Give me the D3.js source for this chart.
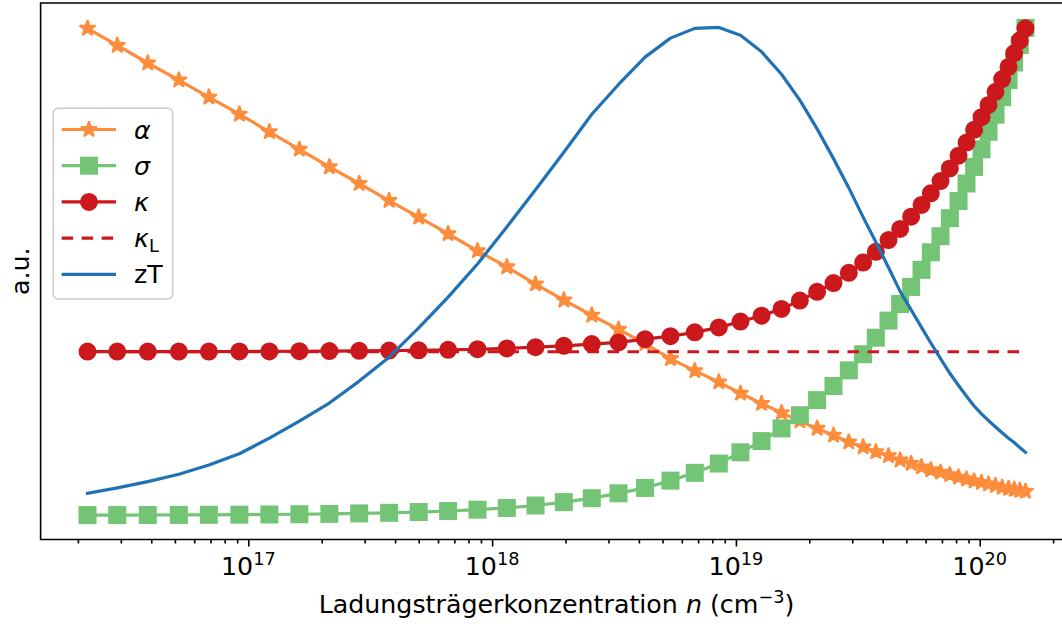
<!DOCTYPE html>
<html><head><meta charset="utf-8">
<script src="https://cdn.jsdelivr.net/npm/d3@7"></script>
<style>body{margin:0;background:#fff} svg{display:block} text{font-family:"DejaVu Sans",sans-serif;fill:#000}</style>
</head><body><svg id="c" width="1062" height="626"></svg>
<script>
// carrier concentration n (cm^-3)
const n = [2.19e16, 2.90e16, 3.87e16, 5.19e16, 6.89e16, 9.19e16, 1.22e17, 1.62e17, 2.15e17, 2.85e17,
  3.78e17, 5.00e17, 6.60e17, 8.71e17, 1.149e18, 1.507e18, 1.969e18, 2.564e18, 3.30e18, 4.24e18,
  5.39e18, 6.78e18, 8.51e18, 1.044e19, 1.274e19, 1.538e19, 1.829e19, 2.153e19, 2.513e19, 2.905e19,
  3.325e19, 3.749e19, 4.226e19, 4.716e19, 5.232e19, 5.771e19, 6.302e19, 6.906e19, 7.542e19, 8.189e19,
  8.830e19, 9.485e19, 1.017e20, 1.087e20, 1.161e20, 1.236e20, 1.313e20, 1.384e20, 1.460e20, 1.541e20];
// series values (a.u.)
const alpha = [0.998,0.963,0.927,0.892,0.857,0.822,0.786,0.750,0.714,0.680,0.645,0.611,0.577,0.542,0.509,0.474,0.441,0.410,0.381,0.352,
  0.321,0.296,0.273,0.250,0.229,0.210,0.193,0.178,0.164,0.150,0.140,0.130,0.122,0.113,0.106,0.099,0.093,0.088,0.083,0.078,
  0.074,0.070,0.067,0.064,0.061,0.057,0.055,0.053,0.051,0.049];
const sigma = [0.0003,0.0004,0.0005,0.0007,0.0009,0.0012,0.0016,0.0021,0.0028,0.0038,0.005,0.0066,0.0087,0.0114,0.015,0.020,0.027,0.035,0.045,0.056,
  0.071,0.087,0.106,0.129,0.152,0.178,0.205,0.236,0.265,0.297,0.330,0.364,0.399,0.433,0.468,0.503,0.539,0.572,0.609,0.644,
  0.680,0.714,0.750,0.786,0.821,0.857,0.892,0.928,0.964,0.999];
const kappa = [0.3355,0.3355,0.3355,0.3356,0.3356,0.3357,0.3359,0.3362,0.3365,0.3370,0.3375,0.3382,0.3391,0.3403,0.342,0.3445,0.3473,0.3508,0.3543,0.361,
  0.367,0.375,0.385,0.397,0.409,0.423,0.440,0.458,0.476,0.497,0.518,0.540,0.564,0.587,0.612,0.636,0.660,0.685,0.711,0.737,
  0.764,0.790,0.816,0.841,0.868,0.894,0.919,0.947,0.973,0.998];
const kappaL = 0.3351;
const zT = [0.045,0.056,0.069,0.084,0.103,0.126,0.158,0.193,0.230,0.275,0.324,0.384,0.447,0.515,0.591,0.667,0.744,0.822,0.883,0.939,
  0.978,0.998,1.000,0.984,0.950,0.904,0.851,0.792,0.731,0.671,0.611,0.560,0.508,0.459,0.421,0.385,0.353,0.321,0.291,0.266,
  0.244,0.224,0.208,0.194,0.181,0.169,0.158,0.149,0.139,0.129];
const majorTicks = [1e17, 1e18, 1e19, 1e20];
const tickExps = ["17", "18", "19", "20"];
const legendLabels = ["α", "σ", "κ", "κL", "zT"];

const C = {alpha:"#fd8d3c", sigma:"#74c476", kappa:"#cb181d", zT:"#2171b5"};
const svg = d3.select("#c");
const L = 40.6, R = 1072.4, T = 3, B = 539.5;
const FS = 25.3, LW = 3.2;

const le = d3.extent(n).map(Math.log10);
const lp = (le[1]-le[0])*0.05;
const x = d3.scaleLog().domain([10**(le[0]-lp), 10**(le[1]+lp)]).range([L, R]);
const allv = [].concat(alpha, sigma, kappa, zT);
const ye = d3.extent(allv); const yp = (ye[1]-ye[0])*0.05;
const y = d3.scaleLinear().domain([ye[0]-yp, ye[1]+yp]).range([B, T]);

function starPath(Rr){ const r = Rr*0.381966; const p=[]; for(let i=0;i<10;i++){const a=-Math.PI/2+i*Math.PI/5; const rr=i%2?r:Rr; p.push([rr*Math.cos(a), rr*Math.sin(a)]);} return "M"+p.map(d=>d[0].toFixed(2)+","+d[1].toFixed(2)).join("L")+"Z"; }
const STAR = starPath(8.3);

const line = d3.line().x((d,i)=>x(n[i])).y(d=>y(d));
const g = svg.append("g");

function drawSeries(vals, color, marker){
  g.append("path").attr("d", line(vals)).attr("fill","none").attr("stroke",color).attr("stroke-width",LW)
   .attr("stroke-linejoin","round").attr("stroke-linecap","square");
  const m = g.append("g");
  vals.forEach((v,i)=>{
    const cx = x(n[i]), cy = y(v);
    if(marker==="star") m.append("path").attr("d",STAR).attr("transform",`translate(${cx},${cy})`).attr("fill",color).attr("stroke",color).attr("stroke-width",2).attr("stroke-linejoin","bevel");
    else if(marker==="square") m.append("rect").attr("x",cx-8).attr("y",cy-8).attr("width",16).attr("height",16).attr("fill",color).attr("stroke",color).attr("stroke-width",2);
    else if(marker==="circle") m.append("circle").attr("cx",cx).attr("cy",cy).attr("r",8).attr("fill",color).attr("stroke",color).attr("stroke-width",2);
  });
}
drawSeries(alpha, C.alpha, "star");
drawSeries(sigma, C.sigma, "square");
drawSeries(kappa, C.kappa, "circle");
g.append("line").attr("x1",x(n[0])).attr("x2",x(n[n.length-1])).attr("y1",y(kappaL)).attr("y2",y(kappaL))
  .attr("stroke",C.kappa).attr("stroke-width",LW).attr("stroke-dasharray","11.5,8.5");
g.append("path").attr("d", line(zT)).attr("fill","none").attr("stroke",C.zT).attr("stroke-width",LW).attr("stroke-linejoin","round").attr("stroke-linecap","square");

// axes
const [d0,d1] = x.domain();
const minor = [];
for(let e=Math.floor(Math.log10(d0)); e<=Math.ceil(Math.log10(d1)); e++) for(let k=2;k<10;k++){const v=k*10**e; if(v>=d0&&v<=d1) minor.push(v);}
const axMinor = svg.append("g").attr("transform",`translate(0,${B})`).call(d3.axisBottom(x).tickValues(minor).tickSize(4).tickFormat(""));
const axMajor = svg.append("g").attr("transform",`translate(0,${B})`).call(d3.axisBottom(x).tickValues(majorTicks).tickSize(7).tickFormat(""));
[axMinor, axMajor].forEach(a=>{a.select(".domain").remove(); a.selectAll("line").attr("stroke","#000").attr("stroke-width",1.6);});
majorTicks.forEach((v,i)=>{
  const t = svg.append("text").attr("x",x(v)).attr("y",575).attr("text-anchor","middle").attr("font-size",FS);
  t.append("tspan").text("10");
  t.append("tspan").attr("dy",-10).attr("font-size",FS*0.7).text(tickExps[i]);
});
// spines
svg.append("path").attr("d",`M${R},${T}H${L}V${B}H${R}`).attr("fill","none").attr("stroke","#000").attr("stroke-width",1.6);

// labels
const xl = svg.append("text").attr("x",(L+R)/2).attr("y",613).attr("text-anchor","middle").attr("font-size",FS);
xl.append("tspan").text("Ladungsträgerkonzentration ");
xl.append("tspan").attr("font-style","italic").text("n");
xl.append("tspan").text(" (cm");
xl.append("tspan").attr("dy",-10).attr("font-size",FS*0.7).text("−3");
xl.append("tspan").attr("dy",10).text(")");
svg.append("text").attr("transform",`translate(29,${(T+B)/2}) rotate(-90)`).attr("text-anchor","middle").attr("font-size",FS).text("a.u.");

// legend
const lg = svg.append("g");
lg.append("rect").attr("x",53.3).attr("y",108.3).attr("width",119.4).attr("height",190.7).attr("rx",5)
  .attr("fill","#fff").attr("fill-opacity",0.8).attr("stroke","#cccccc").attr("stroke-width",1.5);
const rows = [129.5,165.7,201.9,238.1,274.3];
const specs = [[C.alpha,"star",null],[C.sigma,"square",null],[C.kappa,"circle",null],[C.kappa,null,"11.5,8.5"],[C.zT,null,null]];
specs.forEach((s,i)=>{
  const ry = rows[i];
  const ln = lg.append("line").attr("x1",61.7).attr("x2",116).attr("y1",ry).attr("y2",ry).attr("stroke",s[0]).attr("stroke-width",LW);
  if(s[2]) ln.attr("stroke-dasharray",s[2]);
  const cx = 89;
  if(s[1]==="star") lg.append("path").attr("d",STAR).attr("transform",`translate(${cx},${ry})`).attr("fill",s[0]).attr("stroke",s[0]).attr("stroke-width",2).attr("stroke-linejoin","bevel");
  if(s[1]==="square") lg.append("rect").attr("x",cx-8).attr("y",ry-8).attr("width",16).attr("height",16).attr("fill",s[0]).attr("stroke",s[0]).attr("stroke-width",2);
  if(s[1]==="circle") lg.append("circle").attr("cx",cx).attr("cy",ry).attr("r",8).attr("fill",s[0]).attr("stroke",s[0]).attr("stroke-width",2);
  const t = lg.append("text").attr("x",134).attr("y",ry+9).attr("font-size",FS);
  const lab = legendLabels[i];
  if(lab==="zT") t.text(lab);
  else if(lab==="κL"){ t.append("tspan").attr("font-style","italic").text("κ"); t.append("tspan").attr("dy",5).attr("font-size",FS*0.7).text("L"); }
  else t.append("tspan").attr("font-style","italic").text(lab);
});
</script></body></html>
